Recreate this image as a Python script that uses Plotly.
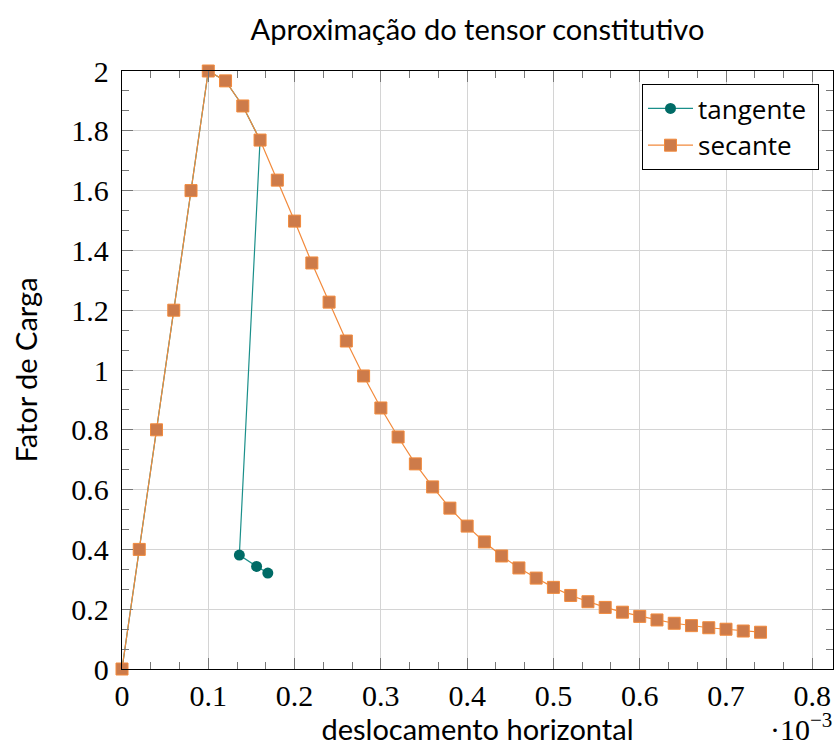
import plotly.graph_objects as go

# Load factor vs. horizontal displacement (x in units of 1e-3)
tangente_x = [0.0, 0.02, 0.04, 0.06, 0.08, 0.10, 0.12, 0.14, 0.16, 0.136, 0.156, 0.169]
tangente_y = [0.0, 0.40, 0.80, 1.20, 1.60, 2.00, 1.967, 1.883, 1.769, 0.381, 0.343, 0.321]

secante_x = [0.0, 0.02, 0.04, 0.06, 0.08, 0.10, 0.12, 0.14, 0.16, 0.18, 0.20,
             0.22, 0.24, 0.26, 0.28, 0.30, 0.32, 0.34, 0.36, 0.38, 0.40,
             0.42, 0.44, 0.46, 0.48, 0.50, 0.52, 0.54, 0.56, 0.58, 0.60,
             0.62, 0.64, 0.66, 0.68, 0.70, 0.72, 0.74]
secante_y = [0.0, 0.40, 0.80, 1.20, 1.60, 2.00, 1.967, 1.883, 1.769, 1.635, 1.498,
             1.358, 1.227, 1.097, 0.980, 0.873, 0.776, 0.686, 0.609, 0.538, 0.478,
             0.425, 0.378, 0.338, 0.304, 0.273, 0.246, 0.225, 0.206, 0.190, 0.176,
             0.164, 0.153, 0.145, 0.138, 0.133, 0.127, 0.123]

x_ticks = [0, 0.1, 0.2, 0.3, 0.4, 0.5, 0.6, 0.7, 0.8]
x_tick_labels = ["0", "0.1", "0.2", "0.3", "0.4", "0.5", "0.6", "0.7", "0.8"]
y_ticks = [0, 0.2, 0.4, 0.6, 0.8, 1.0, 1.2, 1.4, 1.6, 1.8, 2.0]
y_tick_labels = ["0", "0.2", "0.4", "0.6", "0.8", "1", "1.2", "1.4", "1.6", "1.8", "2"]

SANS = "Lato, 'DejaVu Sans', sans-serif"
LEGEND_SANS = "'Open Sans', 'DejaVu Sans', sans-serif"
SERIF = "'Liberation Serif', 'DejaVu Serif', serif"

TEAL_LINE = "#1a8f8a"
TEAL_MARK = "#006b66"
ORANGE_LINE = "#f28a3c"
ORANGE_MARK = "#cd7b4a"

fig = go.Figure()
fig.add_trace(go.Scatter(
    x=tangente_x, y=tangente_y, name="tangente\u00a0", mode="lines+markers",
    line=dict(color=TEAL_LINE, width=1.2), cliponaxis=False,
    marker=dict(symbol="circle", size=11, color=TEAL_MARK, line=dict(width=0)),
))
fig.add_trace(go.Scatter(
    x=secante_x, y=secante_y, name="secante", mode="lines+markers",
    line=dict(color=ORANGE_LINE, width=1.2), cliponaxis=False,
    marker=dict(symbol="square", size=12, color=ORANGE_MARK,
                line=dict(color=ORANGE_LINE, width=1)),
))

axis_common = dict(
    showline=True, linecolor="black", linewidth=1.3, mirror="ticks",
    ticks="inside", ticklen=11, tickwidth=1, tickcolor="#777",
    showgrid=True, gridcolor="#d4d4d4", gridwidth=1.3,
    zeroline=False,
    tickfont=dict(family=SERIF, size=30, color="black"),
)

fig.update_xaxes(
    range=[0, 0.824], tickmode="array", tickvals=x_ticks, ticktext=x_tick_labels,
    minor=dict(tickmode="linear", tick0=0, dtick=0.1 / 3, ticks="inside",
               ticklen=7, tickwidth=1, tickcolor="#777", showgrid=False),
    title=dict(text="deslocamento horizontal", font=dict(family=SANS, size=29, color="black"),
               standoff=4),
    ticklabelstandoff=0,
    **axis_common,
)
fig.update_yaxes(
    range=[0, 2], tickmode="array", tickvals=y_ticks, ticktext=y_tick_labels,
    minor=dict(tickmode="linear", tick0=0, dtick=0.2 / 3, ticks="inside",
               ticklen=7, tickwidth=1, tickcolor="#777", showgrid=False),
    title=dict(text="Fator de Carga", font=dict(family=SANS, size=29, color="black"),
               standoff=25),
    ticklabelstandoff=6,
    **axis_common,
)

# axis multiplier for the displacement scale
fig.add_annotation(
    text="·10<sup>−3</sup>", xref="paper", yref="paper", x=1.0, y=-(707 - 669) / 598,
    xanchor="right", yanchor="top", showarrow=False, borderpad=0,
    font=dict(family=SERIF, size=30, color="black"),
)

fig.update_layout(
    width=834, height=746,
    margin=dict(l=122, r=1, t=71, b=77),
    paper_bgcolor="white", plot_bgcolor="white",
    title=dict(text="Aproximação do tensor constitutivo", x=0.5725, xanchor="center",
               y=1 - 30 / 746, yanchor="middle",
               font=dict(family=SANS, size=29, color="black")),
    showlegend=True,
    legend=dict(x=(819 - 122) / 711, y=1 - 13 / 598, xanchor="right", yanchor="top",
                bordercolor="black", borderwidth=1, bgcolor="white",
                font=dict(family=LEGEND_SANS, size=26, color="black"),
                tracegroupgap=0, itemwidth=45),
)

fig.write_html("out.html")
